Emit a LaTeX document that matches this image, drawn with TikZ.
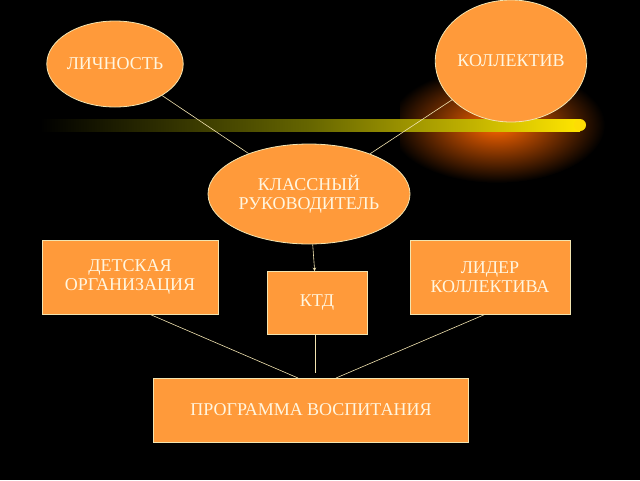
\documentclass[tikz,border=0pt]{standalone}
\usepackage{fontspec}
\setmainfont{Liberation Serif}
\usetikzlibrary{shapes.geometric}
\definecolor{fillor}{HTML}{FF9A3A}
\definecolor{edge}{HTML}{F2E4B0}
\definecolor{txt}{HTML}{FFF6E0}
\begin{document}
\begin{tikzpicture}[x=1pt,y=-1pt,
  ell/.style={ellipse,draw=edge,fill=fillor,line width=0.8pt,inner sep=0pt,text=txt,font=\fontsize{18}{19}\selectfont,align=center},
  box/.style={rectangle,draw=edge,fill=fillor,line width=0.8pt,inner sep=0pt,text=txt,font=\fontsize{18}{19}\selectfont,align=center},
  conn/.style={draw=edge,line width=0.6pt}]
\fill[black] (0,0) rectangle (640,480);
\useasboundingbox (0,0) rectangle (640,480);
% glow
\begin{scope}
\fill[inner color=orange!80!red, outer color=black] (497,125) ellipse (108 and 58);
\fill[black] (400,60) -- (400,190) -- (380,190) -- (380,60) -- cycle;
\end{scope}
\shade[left color=black, right color=yellow!80!orange, middle color=yellow!40!black] (40,119) rectangle (580,131);
\fill[yellow!80!orange] (580,125) circle (6);
\node[ell,minimum width=124,minimum height=86] (lich) at (115,64) {ЛИЧНОСТЬ};
\node[ell,minimum width=136,minimum height=122] (koll) at (511,61) {КОЛЛЕКТИВ};
\node[ell,minimum width=202,minimum height=100] (klass) at (309,194) {КЛАССНЫЙ\\РУКОВОДИТЕЛЬ};
\node[box,minimum width=176,minimum height=74] (det) at (130,277) {ДЕТСКАЯ\\ОРГАНИЗАЦИЯ};
\node[box,minimum width=160,minimum height=74] (lid) at (490,277) {ЛИДЕР\\КОЛЛЕКТИВА};
\node[box,minimum width=100,minimum height=63] (ktd) at (317,303) {КТД};
\node[box,minimum width=315,minimum height=64] (prog) at (311,410) {ПРОГРАММА ВОСПИТАНИЯ};
\coordinate (p1) at (298,378);
\coordinate (p2) at (336,378);
\coordinate (p3) at (315,373);
\draw[conn] (lich) -- (klass);
\draw[conn] (koll) -- (klass);
\draw[conn,-stealth] (klass) -- (ktd);
\draw[conn] (det.south) ++(20,0) -- (p1);
\draw[conn] (lid.south) ++(-5,0) -- (p2);
\draw[conn] (ktd.south) ++(-2,0) -- (p3);
\end{tikzpicture}
\end{document}
